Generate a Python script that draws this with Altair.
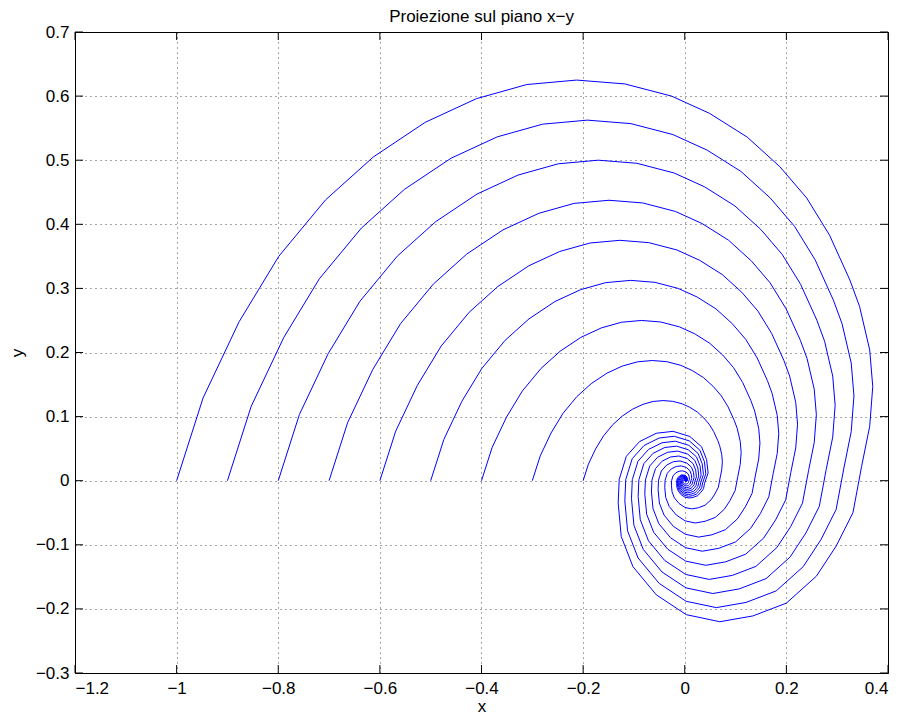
import altair as alt
import pandas as pd

# Trajectory that starts at (-1, 0) (projection on x-y)
base_x = [-1.000, -0.948, -0.877, -0.799, -0.707, -0.613, -0.511, -0.410, -0.311, -0.213,
          -0.118, -0.026, 0.049, 0.123, 0.187, 0.240, 0.285, 0.325, 0.344, 0.364,
          0.370, 0.364, 0.348, 0.331, 0.298, 0.259, 0.200, 0.134, 0.069, 0.003,
          -0.056, -0.102, -0.125, -0.131, -0.129, -0.115, -0.089, -0.056, -0.023, 0.010,
          0.033, 0.043, 0.046, 0.039, 0.037, 0.032, 0.025, 0.0165, 0.0085, 0.0004,
          -0.007, -0.0125, -0.0154, -0.016, -0.0159, -0.014, -0.0069, 0.0012, 0.0053, 0.0048,
          0.002, 0.0]
base_y = [0.000, 0.129, 0.248, 0.350, 0.438, 0.505, 0.559, 0.596, 0.618, 0.625,
          0.619, 0.600, 0.573, 0.536, 0.490, 0.441, 0.383, 0.313, 0.272, 0.204,
          0.147, 0.085, 0.022, -0.050, -0.102, -0.149, -0.191, -0.211, -0.220, -0.209,
          -0.178, -0.134, -0.087, -0.035, 0.002, 0.038, 0.061, 0.074, 0.077, 0.069,
          0.053, 0.033, 0.012, -0.004, -0.0125, -0.018, -0.0235, -0.026, -0.027, -0.0257,
          -0.022, -0.0165, -0.0107, -0.0043, 0.0, 0.0047, 0.0091, 0.0085, 0.0041, -0.0005,
          -0.001, 0.0]

# starting points on the x axis (the linear system scales the trajectory)
starts = [-1.0, -0.9, -0.8, -0.7, -0.6, -0.5, -0.4, -0.3, -0.2]

x_ticks = [-1.2, -1.0, -0.8, -0.6, -0.4, -0.2, 0.0, 0.2, 0.4]
y_ticks = [-0.3, -0.2, -0.1, 0.0, 0.1, 0.2, 0.3, 0.4, 0.5, 0.6, 0.7]

rows = []
for c, s0 in enumerate(starts):
    k = -s0
    for i, (bx, by) in enumerate(zip(base_x, base_y)):
        rows.append({"x": bx * k, "y": by * k, "curve": c, "i": i})
df = pd.DataFrame(rows)
dfx = pd.DataFrame({"x": x_ticks})
dfy = pd.DataFrame({"y": y_ticks})

W, H = 813, 641
TL = 8
FONT = "Liberation Sans"
FS = 17

xs = alt.Scale(domain=[-1.2, 0.4], nice=False, zero=False)
ys = alt.Scale(domain=[-0.3, 0.7], nice=False, zero=False)

lines = alt.Chart(df).mark_line(color="#0000ff", strokeWidth=1, clip=True).encode(
    x=alt.X("x:Q", scale=xs, title="x",
            axis=alt.Axis(values=x_ticks, format="~g", title="x",
                          grid=True, ticks=False, domain=False,
                          labelPadding=7, titlePadding=2)),
    y=alt.Y("y:Q", scale=ys, title="y",
            axis=alt.Axis(values=y_ticks, format="~g", title="y",
                          grid=True, ticks=False, domain=False,
                          labelPadding=6, titlePadding=9)),
    detail="curve:N",
    order="i:Q",
)

tick_b = alt.Chart(dfx).mark_rule(color="black", strokeWidth=1).encode(
    x=alt.X("x:Q", scale=xs, title="x"), y=alt.value(H), y2=alt.value(H - TL))
tick_t = alt.Chart(dfx).mark_rule(color="black", strokeWidth=1).encode(
    x=alt.X("x:Q", scale=xs, title="x"), y=alt.value(0), y2=alt.value(TL))
tick_l = alt.Chart(dfy).mark_rule(color="black", strokeWidth=1).encode(
    y=alt.Y("y:Q", scale=ys, title="y"), x=alt.value(0), x2=alt.value(TL))
tick_r = alt.Chart(dfy).mark_rule(color="black", strokeWidth=1).encode(
    y=alt.Y("y:Q", scale=ys, title="y"), x=alt.value(W), x2=alt.value(W - TL))

chart = alt.layer(lines, tick_b, tick_t, tick_l, tick_r).properties(
    width=W, height=H,
    title=alt.TitleParams("Proiezione sul piano x\u2212y", fontSize=FS, fontWeight="normal",
                          font=FONT, color="black", offset=-3, frame="group"),
    autosize=alt.AutoSizeParams(type="none"),
    padding={"left": 67, "top": 24, "right": 8, "bottom": 42},
    background="white",
).configure_view(stroke="black", strokeWidth=1).configure_axis(
    labelFont=FONT, titleFont=FONT, labelFontSize=FS, titleFontSize=FS,
    labelColor="black", titleColor="black", titleFontWeight="normal",
    gridColor="black", gridOpacity=0.7, gridDash=[1, 4], gridWidth=1,
)

chart.save("out.html", embed_options={"renderer": "svg", "actions": False})
